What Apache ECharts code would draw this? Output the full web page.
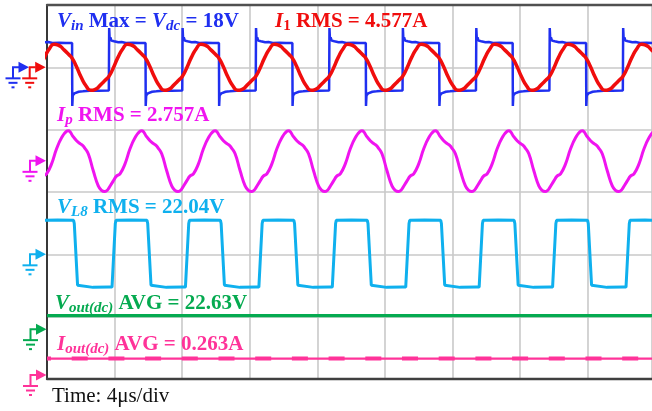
<!DOCTYPE html>
<html><head><meta charset="utf-8">
<script src="https://cdn.jsdelivr.net/npm/echarts@6/dist/echarts.min.js"></script>
<style>html,body{margin:0;padding:0;background:#fff}#c{width:652px;height:411px}</style>
</head><body><div id="c"></div>
<script>
// ---- time base ----
const timeDivUs = 4;          // Time: 4 μs/div
const timeSpanUs = 35.8;      // visible span (image is cropped on the right)
const vertDivs = 6;
const periodUs = 4.345;       // switching period read from the edges
const firstRiseUs = -0.676;   // Vin rising edge just before the left border

// ---- one period of each waveform (time from Vin rising edge, μs) ----
const vinT = [0, 0.010, 0.04, 0.08, 0.14, 0.22, 0.30, 0.40, 0.55, 0.75, 1.00, 1.40, 1.80, 2.160, 2.172, 2.20, 2.24, 2.30, 2.40, 2.55, 2.80, 3.20, 3.70, 4.335];
const vinV = [-17.3, 29.5, 21.0, 22.5, 20.0, 21.0, 19.5, 20.0, 18.8, 19.0, 18.3, 18.5, 18.2, 18.3, -29.0, -21.0, -22.0, -19.5, -20.0, -18.3, -18.0, -17.5, -17.5, -17.3];

const i1T = [0, 0.24, 0.53, 0.83, 1.09, 1.36, 1.66, 1.95, 2.17, 2.41, 2.70, 3.00, 3.27, 3.53, 3.83, 4.12];
const i1V = [-2.5, -0.3, 2.8, 5.3, 6.45, 6.2, 5.0, 3.65, 2.5, 0.3, -2.8, -5.3, -6.45, -6.2, -5.0, -3.65];

const ipT = [0, 0.254, 0.456, 0.651, 0.947, 1.243, 1.538, 1.834, 1.935, 2.041, 2.189, 2.426, 2.604, 2.781, 2.899, 3.118, 3.414, 3.710, 3.905, 4.083, 4.231];
const ipV = [-3.47, -2.57, -1.93, -1.67, -0.39, 1.54, 2.95, 3.79, 3.85, 3.72, 3.21, 2.57, 2.25, 1.99, 1.67, 0.90, -1.28, -3.21, -3.79, -3.94, -3.79];

const vl8T = [0, 0.178, 0.219, 0.373, 0.414, 1.30, 2.248, 2.290, 2.485, 2.527, 3.40];
const vl8V = [-21.0, -21.0, -19.8, 19.8, 21.8, 22.0, 21.8, 19.8, -19.8, -21.0, -21.2];

const voutAvg = 22.63;   // V
const ioutAvg = 0.263;   // A

// ---- channel settings: unit per division, ground level (divisions from bottom) ----
const chScale  = {vin: 46.7, i1: 17.5, ip: 8, vl8: 40, vout: 105, iout: 1};
const chGround = {vin: 5.0, i1: 5.0, ip: 3.5, vl8: 2.0, vout: 0.8, iout: 0.064};
const chColor  = {vin: '#1f2ff0', i1: '#f00d0d', ip: '#f014f0', vl8: '#0fb0ee', vout: '#05aa50', iout: '#ff3399'};

function tile(ts, vs, key) {
  const out = [];
  for (let k = -1; k <= 9; k++) {
    const base = firstRiseUs + k * periodUs;
    for (let i = 0; i < ts.length; i++) out.push([base + ts[i], chGround[key] + vs[i] / chScale[key]]);
  }
  return out;
}
function flat(v, key) {
  return [[0, chGround[key] + v / chScale[key]], [timeSpanUs, chGround[key] + v / chScale[key]]];
}

const F = "'Liberation Serif','Times New Roman',serif";
const chart = echarts.init(document.getElementById('c'), null, {renderer: 'canvas'});

const option = {
  animation: false,
  backgroundColor: '#fff',
  grid: {left: 47, right: 0, top: 5, bottom: 32, containLabel: false},
  xAxis: [
    {type: 'value', min: 0, max: timeSpanUs, interval: timeDivUs, position: 'bottom',
     axisLine: {show: true, onZero: false, lineStyle: {color: '#404040', width: 2.4}},
     axisTick: {show: false}, axisLabel: {show: false},
     splitLine: {show: true, lineStyle: {color: '#c9c9c9', width: 1.6}}},
    {type: 'value', min: 0, max: timeSpanUs, position: 'top',
     axisLine: {show: true, onZero: false, lineStyle: {color: '#505050', width: 2.4}},
     axisTick: {show: false}, axisLabel: {show: false}, splitLine: {show: false}}
  ],
  yAxis: {type: 'value', min: 0, max: vertDivs, interval: 1,
    axisLine: {show: true, onZero: false, lineStyle: {color: '#111', width: 1.6}},
    axisTick: {show: false}, axisLabel: {show: false},
    splitLine: {show: true, lineStyle: {color: '#c9c9c9', width: 1.6}}},
  series: [
    {type: 'line', data: tile(vinT, vinV, 'vin'), showSymbol: false, symbol: 'none', smooth: false,
     lineStyle: {color: chColor.vin, width: 2.5}, z: 3},
    {type: 'line', data: tile(i1T, i1V, 'i1'), showSymbol: false, symbol: 'none', smooth: 0.6,
     lineStyle: {color: chColor.i1, width: 3.5}, z: 4},
    {type: 'line', data: tile(ipT, ipV, 'ip'), showSymbol: false, symbol: 'none', smooth: 0.5,
     lineStyle: {color: chColor.ip, width: 3}, z: 3},
    {type: 'line', data: tile(vl8T, vl8V, 'vl8'), showSymbol: false, symbol: 'none', smooth: false,
     lineStyle: {color: chColor.vl8, width: 3}, z: 3},
    {type: 'line', data: flat(voutAvg, 'vout'), showSymbol: false, symbol: 'none',
     lineStyle: {color: chColor.vout, width: 3.3}, z: 3},
    {type: 'line', data: flat(ioutAvg, 'iout'), showSymbol: false, symbol: 'none',
     lineStyle: {color: chColor.iout, width: 2.3}, z: 3},
    {type: 'line', data: flat(ioutAvg, 'iout'), showSymbol: false, symbol: 'none',
     lineStyle: {color: chColor.iout, width: 4, type: [16, 20.7], dashOffset: 12}, z: 3}
  ]
};
chart.setOption(option);

// ---- ground markers and labels ----
function gy(key) { return chart.convertToPixel({gridIndex: 0}, [0, chGround[key]])[1]; }
function marker(tipX, y, color) {
  const sx = tipX - 16;
  const ls = {stroke: color, lineWidth: 2, fill: null};
  return [
    {type: 'polygon', shape: {points: [[tipX - 10.5, y - 5.5], [tipX, y], [tipX - 10.5, y + 5.5]]}, style: {fill: color}, z: 50},
    {type: 'polyline', shape: {points: [[tipX - 10, y], [sx, y], [sx, y + 11]]}, style: ls, z: 50},
    {type: 'line', shape: {x1: sx - 7.5, y1: y + 11, x2: sx + 7.5, y2: y + 11}, style: ls, z: 50},
    {type: 'line', shape: {x1: sx - 4.5, y1: y + 15.5, x2: sx + 4.5, y2: y + 15.5}, style: ls, z: 50},
    {type: 'line', shape: {x1: sx - 1.5, y1: y + 20, x2: sx + 1.5, y2: y + 20}, style: ls, z: 50}
  ];
}
function richFor(color) {
  const base = {fill: color, fontFamily: F, fontSize: 21, fontWeight: 'bold', lineHeight: 24, verticalAlign: 'middle'};
  return {
    v: Object.assign({}, base, {fontStyle: 'italic'}),
    b: Object.assign({}, base),
    s: Object.assign({}, base, {fontSize: 15, fontStyle: 'italic', lineHeight: 12, verticalAlign: 'bottom'}),
    n: Object.assign({}, base, {fontSize: 15, lineHeight: 12, verticalAlign: 'bottom'})
  };
}
function label(x, top, color, text) {
  return {type: 'text', x: x, y: top, z: 60,
    style: {text: text, rich: richFor(color), fill: color, font: 'bold 21px ' + F, align: 'left', verticalAlign: 'top'}};
}

const labels = [
  {x: 57, top: 10, key: 'vin', text: '{v|V}{s|in}{b| Max = }{v|V}{s|dc}{b| = 18V}'},
  {x: 275, top: 10, key: 'i1', text: '{v|I}{n|1}{b| RMS = 4.577A}'},
  {x: 57, top: 104, key: 'ip', text: '{v|I}{s|p}{b| RMS = 2.757A}'},
  {x: 57, top: 195.5, key: 'vl8', text: '{v|V}{s|L8}{b| RMS = 22.04V}'},
  {x: 55, top: 292, key: 'vout', text: '{v|V}{s|out(dc)}{b| AVG = 22.63V}'},
  {x: 57, top: 332.5, key: 'iout', text: '{v|I}{s|out(dc)}{b| AVG = 0.263A}'}
];

let els = [];
els = els.concat(marker(29, gy('vin'), chColor.vin));
els = els.concat(marker(45.7, gy('i1'), chColor.i1));
els = els.concat(marker(46, gy('ip'), chColor.ip));
els = els.concat(marker(46, gy('vl8'), chColor.vl8));
els = els.concat(marker(46.5, gy('vout'), chColor.vout));
els = els.concat(marker(46.5, gy('iout'), chColor.iout));
labels.forEach(l => els.push(label(l.x, l.top, chColor[l.key], l.text)));
els.push({type: 'text', x: 52, y: 396, z: 60,
  style: {text: 'Time: 4μs/div', fill: '#111', font: '21px ' + F, align: 'left', verticalAlign: 'middle'}});

chart.setOption({graphic: {elements: els}});
</script></body></html>
